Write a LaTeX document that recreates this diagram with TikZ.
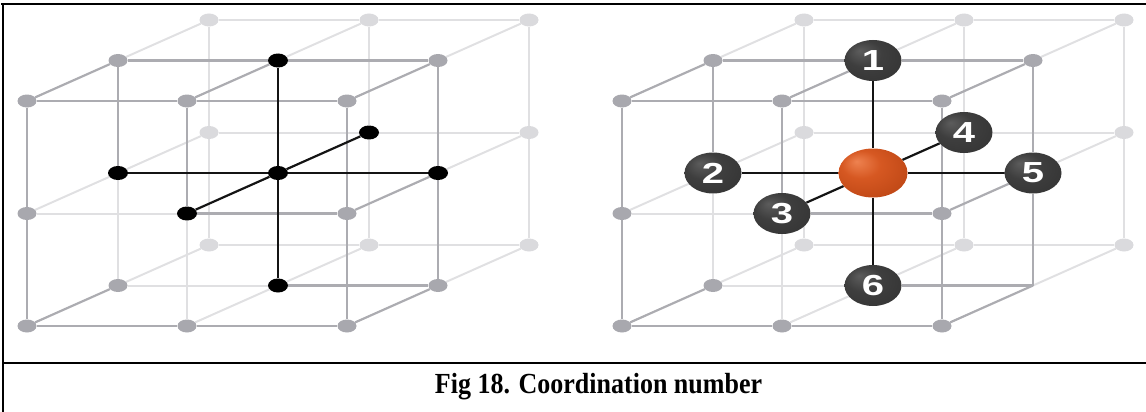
\documentclass[tikz,border=0pt]{standalone}
\usepackage{fontspec}
\usepackage{graphicx}
\setmainfont{Liberation Serif}
\newfontfamily\balldigits{Liberation Sans}
\usetikzlibrary{shapes.geometric}

\pgfdeclarelayer{edges}
\pgfsetlayers{edges,main}

% palette
\definecolor{linegray}{RGB}{172,172,177}
\definecolor{linelight}{RGB}{224,224,226}
\definecolor{dotgray}{RGB}{168,168,174}
\definecolor{dotlight}{RGB}{218,218,221}
\definecolor{ballHi}{RGB}{92,92,92}
\definecolor{ballMid}{RGB}{62,62,62}
\definecolor{ballLo}{RGB}{50,50,50}
\definecolor{orangeHi}{RGB}{238,130,80}
\definecolor{orangeMid}{RGB}{214,88,34}
\definecolor{orangeLo}{RGB}{180,64,16}

\pgfdeclareradialshading{darkball}{\pgfpoint{-12bp}{12bp}}{%
  color(0bp)=(ballHi); color(16bp)=(ballMid); color(40bp)=(ballLo); color(50bp)=(ballLo)}
\pgfdeclareradialshading{orangeball}{\pgfpoint{-12bp}{12bp}}{%
  color(0bp)=(orangeHi); color(14bp)=(orangeMid); color(42bp)=(orangeLo); color(50bp)=(orangeLo)}

\tikzset{
  latpt/.style={ellipse, inner sep=0pt, minimum width=19pt, minimum height=13pt},
  ptgray/.style={latpt, fill=dotgray},
  ptlight/.style={latpt, fill=dotlight},
  ptblack/.style={latpt, fill=black, minimum width=20pt, minimum height=14pt},
  numball/.style={ellipse, inner sep=0pt, minimum width=57pt, minimum height=41pt,
    shade, shading=darkball, text=white,
    font=\balldigits\bfseries\fontsize{29}{29}\selectfont},
  centreball/.style={ellipse, inner sep=0pt, minimum width=69pt, minimum height=49pt,
    shade, shading=orangeball},
  edgelight/.style={draw=linelight, line width=2pt},
  edgegray/.style={draw=linegray, line width=2.2pt},
  edgeblack/.style={draw=black!92, line width=2.2pt},
  frame/.style={draw=black, line width=1.3pt},
}

% the grid lines of one 3x3x3 lattice, #1 = name prefix
\newcommand\latticeedges[1]{%
  \begin{pgfonlayer}{edges}
    \foreach \a/\b in {b00/b10,b10/b20,b01/b11,b11/b21,b02/b12,b12/b22,
                       b00/b01,b01/b02,b10/b11,b11/b12,b20/b21,b21/b22,
                       m00/b00,m10/b10,m20/b20,m01/b01,m21/b21,m02/b02,m12/b12,m22/b22,
                       f01/f11,f11/f12,m02/m12,m01/m02,f01/m01,f12/m12}
      \draw[edgelight] (#1\a) -- (#1\b);
    \foreach \a/\b in {f00/f10,f10/f20,f11/f21,f02/f12,f12/f22,
                       f00/f01,f01/f02,f10/f11,f20/f21,f21/f22,
                       m00/m10,m10/m20,m12/m22,m00/m01,m20/m21,m21/m22,
                       f00/m00,f10/m10,f20/m20,f21/m21,f02/m02,f22/m22}
      \draw[edgegray] (#1\a) -- (#1\b);
    \foreach \a/\b in {m01/m11,m11/m21,m10/m11,m11/m12,f11/m11,m11/b11}
      \draw[edgeblack] (#1\a) -- (#1\b);
  \end{pgfonlayer}%
}

\begin{document}
\begin{tikzpicture}[x=1pt, y=-1pt]
  \useasboundingbox (0,0) rectangle (1146,412);

  % ---------- left lattice: black dots mark the central site and its neighbours
  \foreach \k/\lay in {2/b,1/m,0/f}
    \foreach \i in {0,1,2}
      \foreach \j in {0,1,2} {
        \pgfmathsetmacro\px{27+160*\i+91*\k}
        \pgfmathsetmacro\py{101+112.5*\j-40.5*\k}
        \pgfmathtruncatemacro\hits{(\k==1)+(\i==1)+(\j==1)}
        \ifnum\hits>1
          \node[ptblack] (L\lay\i\j) at (\px,\py) {};
        \else
          \ifnum\k=2
            \node[ptlight] (L\lay\i\j) at (\px,\py) {};
          \else
            \node[ptgray] (L\lay\i\j) at (\px,\py) {};
          \fi
        \fi
      }
  \latticeedges{L}

  % ---------- right lattice: numbered neighbours around the orange atom
  \foreach \k/\lay in {2/b,1/m,0/f}
    \foreach \i in {0,1,2}
      \foreach \j in {0,1,2} {
        \pgfmathsetmacro\px{622+160*\i+91*\k}
        \pgfmathsetmacro\py{101+112.5*\j-40.5*\k}
        \pgfmathtruncatemacro\hits{(\k==1)+(\i==1)+(\j==1)}
        \pgfmathtruncatemacro\bare{(\k==1)&&(\i==2)&&(\j==2)}
        \ifnum\hits<2
          \ifnum\bare=1
            \coordinate (R\lay\i\j) at (\px,\py);
          \else
            \ifnum\k=2
              \node[ptlight] (R\lay\i\j) at (\px,\py) {};
            \else
              \node[ptgray] (R\lay\i\j) at (\px,\py) {};
            \fi
          \fi
        \fi
      }
  \node[centreball] (Rm11) at (873,173) {};
  \node[numball] (Rm10) at (873,60.5)  {\scalebox{1.38}[1]{1}};
  \node[numball] (Rm01) at (713,173)   {\scalebox{1.38}[1]{2}};
  \node[numball] (Rf11) at (782,213.5) {\scalebox{1.38}[1]{3}};
  \node[numball] (Rb11) at (964,132.5) {\scalebox{1.38}[1]{4}};
  \node[numball] (Rm21) at (1033,173)  {\scalebox{1.38}[1]{5}};
  \node[numball] (Rm12) at (873,285.5) {\scalebox{1.38}[1]{6}};
  \latticeedges{R}

  % ---------- table rules and caption
  \draw[frame] (3,412) -- (3,4) -- (1146,4);
  \draw[draw=black, line width=2.2pt] (1,4.3) -- (16,4.3);
  \draw[draw=black, line width=2.2pt] (1138,4.3) -- (1146,4.3);
  \draw[draw=black, line width=2.2pt] (3,363) -- (3,412);
  \draw[draw=black, line width=2.4pt] (2,363) -- (1146,363);
  \node[anchor=base, inner sep=0pt, font=\bfseries\fontsize{26}{26}\selectfont]
    (caption) at (598.5,393) {\scalebox{1}[1.12]{Fig 18. Coordination number}};
\end{tikzpicture}
\end{document}
